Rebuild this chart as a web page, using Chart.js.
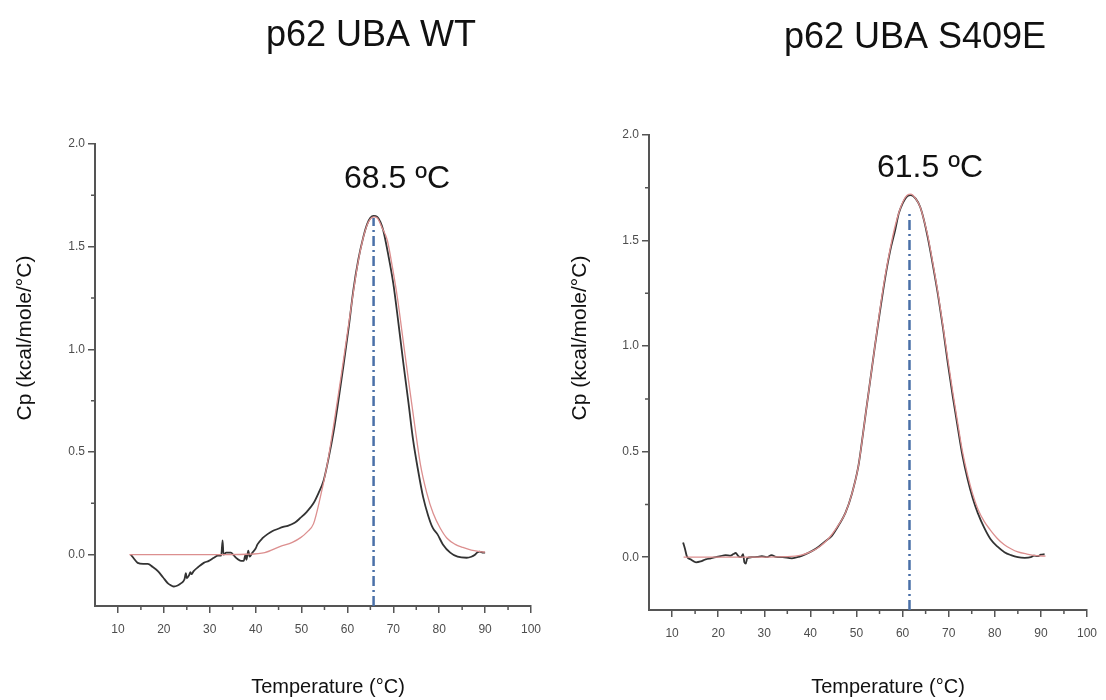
<!DOCTYPE html>
<html>
<head>
<meta charset="utf-8">
<script src="https://cdn.jsdelivr.net/npm/chart.js@4"></script>
<style>
  html, body { margin: 0; padding: 0; background: #fff; }
  #wrap { position: relative; width: 1106px; height: 700px; }
  .box { position: absolute; top: 0; width: 553px; height: 700px; }
</style>
</head>
<body>
<div id="wrap">
  <div class="box" style="left:0"><canvas id="wtChart" width="553" height="700"></canvas></div>
  <div class="box" style="left:553px"><canvas id="s409eChart" width="553" height="700"></canvas></div>
</div>
<script>
// tick values
const xTicks = [10, 20, 30, 40, 50, 60, 70, 80, 90, 100];
const xMinorTicks = [15, 25, 35, 45, 55, 65, 75, 85, 95];
const yTicks = [0, 0.5, 1.0, 1.5, 2.0];
const yMinorTicks = [0.25, 0.75, 1.25, 1.75];

// p62 UBA WT - measured
const wtTemp = [12.8, 13.5, 14.3, 15.5, 16.5, 17.6, 18.7, 19.8, 20.9, 21.6, 22.2, 23.0, 23.7, 24.5, 24.8, 25.0, 25.5, 25.8, 26.0, 26.5,
  27.5, 28.7, 29.8, 30.9, 31.8, 32.5, 32.8, 33.0, 33.6, 34.6, 35.3, 36.0, 36.8, 37.4, 37.8, 38.0, 38.4, 38.7, 39.3, 40.0,
  40.4, 41.5, 42.6, 43.7, 44.8, 46.0, 47.0, 48.5, 49.8, 51.2, 52.6, 53.7, 54.8, 55.9, 57.0, 58.1, 59.2, 60.3, 61.3, 62.4,
  63.5, 64.3, 65.0, 65.7, 66.5, 67.2, 67.8, 68.9, 70.0, 71.1, 72.2, 73.3, 74.3, 75.4, 76.5, 77.6, 78.6, 79.6, 80.8, 82.4,
  84.0, 86.0, 87.0, 87.8, 88.3, 88.8, 89.6, 90.0];
const wtCp = [0.0, -0.02, -0.04, -0.045, -0.045, -0.06, -0.08, -0.11, -0.14, -0.15, -0.155, -0.15, -0.14, -0.12, -0.09, -0.115, -0.10, -0.085, -0.095, -0.08,
  -0.06, -0.04, -0.03, -0.015, -0.005, -0.005, 0.07, 0.0, 0.01, 0.01, -0.005, -0.02, -0.03, -0.03, 0.0, -0.025, 0.02, -0.01, 0.01, 0.03,
  0.05, 0.08, 0.10, 0.115, 0.125, 0.135, 0.14, 0.155, 0.18, 0.21, 0.25, 0.30, 0.36, 0.47, 0.60, 0.76, 0.93, 1.11, 1.29, 1.44,
  1.55, 1.61, 1.64, 1.65, 1.645, 1.62, 1.58, 1.46, 1.32, 1.13, 0.93, 0.74, 0.56, 0.41, 0.28, 0.19, 0.13, 0.10, 0.05, 0.01,
  -0.01, -0.015, -0.01, 0.0, 0.01, 0.015, 0.01, 0.01];

// p62 UBA WT - fit
const wtFitTemp = [12.5, 20, 30, 38, 42, 45.4, 48, 49.8, 51.2, 52.6, 54.0, 55.6, 57.0, 58.5, 59.8, 61.1, 62.2, 63.3, 64.2, 65.0,
  65.8, 66.5, 67.6, 68.7, 69.8, 70.9, 72.1, 73.3, 74.6, 75.9, 77.3, 78.7, 80.2, 81.7, 83.5, 85.2, 87.0, 88.9, 90.0];
const wtFitCp = [0, 0, 0, 0.002, 0.01, 0.04, 0.06, 0.083, 0.11, 0.15, 0.27, 0.44, 0.63, 0.85, 1.05, 1.25, 1.41, 1.53, 1.60, 1.635,
  1.645, 1.64, 1.59, 1.53, 1.40, 1.25, 1.05, 0.85, 0.64, 0.44, 0.30, 0.20, 0.13, 0.08, 0.05, 0.035, 0.022, 0.015, 0.012];

// p62 UBA S409E - measured
const s409eTemp = [12.4, 12.8, 13.2, 14.0, 15.2, 16.2, 17.3, 18.4, 19.5, 20.5, 21.6, 22.7, 23.3, 23.8, 24.4, 25.0, 25.4, 25.7, 26.0, 26.3,
  27.3, 28.5, 29.5, 30.5, 31.6, 32.5, 34.0, 36.0, 37.5, 39.0, 40.4, 41.8, 43.2, 44.6, 46.1, 47.6, 49.0, 50.4, 51.2, 52.0,
  53.0, 54.0, 55.0, 56.2, 57.3, 58.4, 59.2, 60.1, 61.0, 61.8, 62.8, 63.8, 64.6, 65.5, 66.6, 67.7, 68.8, 69.8, 70.9, 72.0,
  73.0, 74.1, 75.2, 76.3, 77.7, 79.1, 80.6, 82.1, 83.5, 85.0, 86.5, 87.8, 88.5, 89.3, 90.0, 90.8];
const s409eCp = [0.07, 0.04, 0.005, -0.01, -0.024, -0.02, -0.01, -0.005, 0.0, 0.005, 0.01, 0.008, 0.015, 0.02, 0.005, 0.0, 0.015, -0.025, -0.03, -0.005,
  0.0, 0.002, 0.005, 0.0, 0.01, 0.002, 0.0, -0.005, 0.002, 0.015, 0.03, 0.05, 0.075, 0.10, 0.15, 0.21, 0.30, 0.43, 0.55, 0.68,
  0.84, 1.0, 1.15, 1.32, 1.45, 1.55, 1.63, 1.68, 1.71, 1.715, 1.70, 1.66, 1.60, 1.51, 1.38, 1.24, 1.08, 0.92, 0.76, 0.61,
  0.48, 0.37, 0.28, 0.21, 0.14, 0.085, 0.05, 0.024, 0.01, 0.0, -0.003, 0.0, 0.008, 0.005, 0.012, 0.014];

// p62 UBA S409E - fit
const s409eFitTemp = [12.5, 25, 35, 38, 40, 42, 44, 46, 47.6, 49, 50.4, 52, 53, 54, 55, 56.2, 57.3, 58.4, 59.3, 60.2,
  61, 61.8, 62.8, 63.8, 64.6, 65.5, 66.6, 67.7, 68.8, 69.8, 70.9, 72, 73, 74.1, 75.2, 76.3, 77.7, 79, 80.5, 82,
  83.5, 85, 87, 89, 91];
const s409eFitCp = [0, 0, 0.003, 0.01, 0.025, 0.05, 0.09, 0.15, 0.21, 0.30, 0.43, 0.68, 0.84, 1.0, 1.16, 1.33, 1.46, 1.57, 1.64, 1.69,
  1.715, 1.72, 1.70, 1.66, 1.60, 1.52, 1.39, 1.25, 1.09, 0.94, 0.78, 0.63, 0.50, 0.39, 0.30, 0.23, 0.17, 0.13, 0.09, 0.06,
  0.04, 0.025, 0.015, 0.008, 0.005];

// Tm marker lines (x, from bottom of axis up to near the peak)
const wtPeakLine = { temp: [65.7, 65.7], cp: [-0.25, 1.64] };
const s409ePeakLine = { temp: [61.5, 61.5], cp: [-0.25, 1.63] };

const pts = (xs, ys) => xs.map((x, i) => ({ x: x, y: ys[i] }));

const FONT = "'Liberation Sans', Arial, Helvetica, sans-serif";
const AXIS = '#555';

// minor ticks + free text (titles, Tm label, axis titles)
const decorPlugin = {
  id: 'decor',
  afterDraw(chart, args, opts) {
    const ctx = chart.ctx;
    const xs = chart.scales.x, ys = chart.scales.y;
    ctx.save();
    ctx.strokeStyle = AXIS;
    ctx.lineWidth = 1.5;
    ctx.beginPath();
    xMinorTicks.forEach(v => {
      const px = xs.getPixelForValue(v);
      ctx.moveTo(px, xs.top);
      ctx.lineTo(px, xs.top + 4);
    });
    yMinorTicks.forEach(v => {
      const py = ys.getPixelForValue(v);
      ctx.moveTo(ys.right, py);
      ctx.lineTo(ys.right - 4, py);
    });
    ctx.stroke();

    ctx.fillStyle = '#111';
    ctx.textAlign = 'center';
    ctx.textBaseline = 'alphabetic';
    ctx.font = '36px ' + FONT;
    ctx.fillText(opts.title, opts.titleX, opts.titleY);
    ctx.font = '32px ' + FONT;
    ctx.fillText(opts.tm, opts.tmX, opts.tmY);
    ctx.font = '20px ' + FONT;
    ctx.fillText('Temperature (°C)', opts.xTitleX, opts.xTitleY);
    ctx.translate(opts.yTitleX, opts.yTitleY);
    ctx.rotate(-Math.PI / 2);
    ctx.textBaseline = 'middle';
    ctx.font = '21px ' + FONT;
    ctx.fillText('Cp (kcal/mole/°C)', 0, 0);
    ctx.restore();
  }
};

function makeChart(id, measured, fit, peak, layout, decor) {
  return new Chart(document.getElementById(id), {
    type: 'line',
    data: {
      datasets: [
        { data: pts(fit[0], fit[1]), borderColor: '#dc8f8f', borderWidth: 1.3, pointRadius: 0, cubicInterpolationMode: 'monotone' },
        { data: pts(measured[0], measured[1]), borderColor: '#333', borderWidth: 1.8, pointRadius: 0, cubicInterpolationMode: 'monotone' },
        { data: pts(peak.temp, peak.cp), borderColor: '#4a70a8', borderWidth: 2.5, borderDash: [10, 4, 2, 4], pointRadius: 0 }
      ]
    },
    options: {
      responsive: false,
      animation: false,
      layout: { padding: { left: 0, top: layout.top, right: layout.right, bottom: 0 } },
      plugins: { legend: { display: false }, tooltip: { enabled: false }, decor: decor },
      scales: {
        x: {
          type: 'linear', min: 5, max: 100,
          afterBuildTicks: s => { s.ticks = xTicks.map(v => ({ value: v })); },
          afterFit: s => { s.height = layout.xHeight; },
          border: { display: true, color: AXIS, width: 2 },
          grid: { display: true, drawOnChartArea: false, drawTicks: true, tickLength: 7, color: AXIS, lineWidth: 1.5 },
          ticks: { color: '#4d4d4d', font: { family: FONT, size: 12 }, padding: 9, maxRotation: 0, autoSkip: false }
        },
        y: {
          type: 'linear', min: -0.25, max: 2.0,
          afterBuildTicks: s => { s.ticks = yTicks.map(v => ({ value: v })); },
          afterFit: s => { s.width = layout.yWidth; },
          border: { display: true, color: AXIS, width: 2 },
          grid: { display: true, drawOnChartArea: false, drawTicks: true, tickLength: 7, color: AXIS, lineWidth: 1.5 },
          ticks: { color: '#4d4d4d', font: { family: FONT, size: 12 }, padding: 3, callback: v => v.toFixed(1) }
        }
      }
    },
    plugins: [decorPlugin]
  });
}

makeChart('wtChart', [wtTemp, wtCp], [wtFitTemp, wtFitCp], wtPeakLine,
  { top: 144, right: 22, xHeight: 94, yWidth: 95 },
  { title: 'p62 UBA WT', titleX: 371, titleY: 46, tm: '68.5 ºC', tmX: 397, tmY: 188,
    xTitleX: 328, xTitleY: 693, yTitleX: 25, yTitleY: 338 });

makeChart('s409eChart', [s409eTemp, s409eCp], [s409eFitTemp, s409eFitCp], s409ePeakLine,
  { top: 135, right: 16, xHeight: 90, yWidth: 96 },
  { title: 'p62 UBA S409E', titleX: 362, titleY: 48, tm: '61.5 ºC', tmX: 377, tmY: 177,
    xTitleX: 335, xTitleY: 693, yTitleX: 27, yTitleY: 338 });
</script>
</body>
</html>
